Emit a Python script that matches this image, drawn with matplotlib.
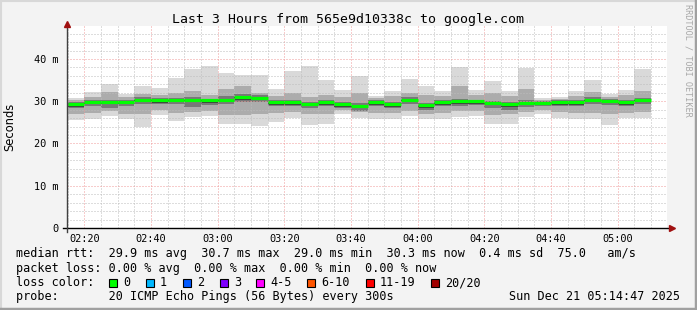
# smokeping style latency graph, last 3 hours

import matplotlib
matplotlib.use("Agg")
from matplotlib import pyplot as plt
from matplotlib.patches import Rectangle
from matplotlib.lines import Line2D
from matplotlib.ticker import MultipleLocator, FixedLocator, FuncFormatter

W, H = 697, 310

# time in minutes after midnight
t_start, t_end = 134.783, 314.783
bar_start = [135 + 5 * i for i in range(35)]

# ms values per 5 minute step
rtt_max = [30.8, 32.1, 34.0, 31.7, 33.6, 33.2, 35.5, 37.6, 38.3, 36.7, 36.2, 36.2,
           32.9, 37.1, 38.3, 35.0, 32.6, 35.9, 31.3, 32.5, 35.2, 33.6, 32.5, 38.1,
           32.6, 34.8, 32.4, 37.9, 30.8, 31.0, 32.4, 35.1, 31.8, 32.6, 37.6]
rtt_upper = [30.3, 31.0, 32.2, 30.9, 31.8, 31.5, 32.0, 32.5, 31.5, 33.0, 33.5, 32.0,
             31.3, 32.0, 31.0, 31.5, 31.0, 32.0, 30.8, 31.2, 32.0, 31.5, 31.2, 33.5,
             31.5, 32.0, 31.2, 33.0, 30.3, 30.5, 31.3, 32.2, 31.0, 31.5, 32.5]
rtt_inner_hi = [29.8, 30.4, 30.3, 30.4, 31.0, 30.8, 30.8, 30.9, 30.6, 31.2, 31.6, 31.4,
                30.3, 30.3, 29.9, 30.3, 29.8, 29.5, 30.2, 29.8, 30.9, 29.6, 30.3, 30.6,
                30.4, 30.1, 29.8, 30.3, 30.0, 30.2, 30.3, 30.9, 30.5, 30.3, 30.8]
rtt_median = [29.3, 29.9, 29.9, 29.9, 30.4, 30.2, 30.3, 30.3, 30.2, 30.4, 30.9, 30.8,
              29.8, 29.8, 29.4, 29.8, 29.3, 28.9, 29.8, 29.3, 30.3, 29.1, 29.8, 30.0,
              30.0, 29.6, 29.3, 29.6, 29.6, 29.8, 29.8, 30.4, 30.1, 29.8, 30.3]
rtt_inner_lo = [28.5, 28.8, 28.4, 28.9, 29.4, 29.3, 29.3, 28.6, 29.0, 29.3, 29.8, 29.8,
                28.8, 28.9, 28.3, 28.8, 28.5, 27.8, 28.9, 28.3, 29.4, 28.0, 28.8, 28.8,
                29.0, 28.5, 28.0, 28.6, 28.9, 28.9, 28.8, 29.3, 29.1, 28.8, 29.4]
rtt_lower = [27.0, 27.2, 27.8, 27.0, 27.0, 28.0, 27.2, 27.5, 27.8, 26.8, 26.8, 27.0,
             27.2, 27.5, 27.0, 27.0, 28.0, 27.5, 27.3, 27.3, 27.8, 27.0, 27.2, 27.8,
             27.8, 26.8, 27.0, 27.5, 28.0, 27.5, 27.2, 27.3, 27.0, 27.3, 27.5]
rtt_min = [25.5, 25.9, 26.5, 25.7, 24.0, 26.7, 25.3, 26.3, 26.4, 24.7, 24.7, 24.1,
           25.1, 26.1, 24.3, 24.6, 26.9, 26.1, 25.9, 25.9, 26.5, 25.7, 25.9, 26.3,
           26.4, 24.5, 24.6, 26.3, 26.9, 26.1, 25.8, 25.7, 24.3, 26.1, 26.1]

loss_labels = ["0", "1", "2", "3", "4-5", "6-10", "11-19", "20/20"]
loss_colors = ["#00ff00", "#00b8ff", "#0059ff", "#7e00ff", "#ff00ff", "#ff5500",
               "#ff0000", "#a10000"]

MONO = "DejaVu Sans Mono"


def px(x, y):
	# pixel position (from top left) to figure fraction
	return x / W, 1 - y / H


fig = plt.figure(figsize=(W / 100, H / 100), dpi=100)
fig.patch.set_facecolor("#f3f3f3")

# frame around the canvas
fig.add_artist(Line2D([0, 1], [1 - 0.5 / H, 1 - 0.5 / H], color="#d8d8d8", lw=1.5))
fig.add_artist(Line2D([0.5 / W, 0.5 / W], [0, 1], color="#d8d8d8", lw=1.5))
fig.add_artist(Line2D([1 - 1.5 / W, 1 - 1.5 / W], [0, 1], color="#a0a0a0", lw=2.5))
fig.add_artist(Line2D([0, 1], [1.5 / H, 1.5 / H], color="#a0a0a0", lw=2.5))

ax = fig.add_axes([67 / W, (H - 228) / H, 600 / W, 202 / H])
ax.set_facecolor("white")

# smoke, outer bands first
bands = [(rtt_min, rtt_max, "#d9d9d9"),
         (rtt_lower, rtt_upper, "#acacac"),
         (rtt_inner_lo, rtt_inner_hi, "#787878")]
for lo, hi, col in bands:
	ax.bar(bar_start, [h - l for h, l in zip(hi, lo)], bottom=lo, width=5,
		   align="edge", color=col, linewidth=0, zorder=1)
# dark core just around the median
core_lo = [m - 0.6 for m in rtt_median]
ax.bar(bar_start, [m - c for m, c in zip(rtt_median, core_lo)], bottom=core_lo,
	   width=5, align="edge", color="#404040", linewidth=0, zorder=1)

ax.hlines(rtt_median, bar_start, [b + 5 for b in bar_start], colors="#00ff00",
		  linewidth=2.3, zorder=4)

ax.set_xlim(t_start, t_end)
ax.set_ylim(0, 47.8)

ax.xaxis.set_major_locator(FixedLocator(list(range(140, 301, 20))))
ax.xaxis.set_minor_locator(MultipleLocator(5))
ax.yaxis.set_major_locator(MultipleLocator(10))
ax.yaxis.set_minor_locator(MultipleLocator(2))
ax.xaxis.set_major_formatter(FuncFormatter(lambda v, p: "%02d:%02d" % (v // 60, v % 60)))
ax.yaxis.set_major_formatter(FuncFormatter(lambda v, p: "0" if v == 0 else "%d m" % v))

ax.set_axisbelow(False)
ax.grid(which="minor", color="#bdbdbd", linestyle=(0, (1, 2)), linewidth=0.72, zorder=2)
ax.grid(which="major", color="#f09a9a", linestyle=(0, (1, 2)), linewidth=0.72, zorder=2)

ax.tick_params(which="both", length=0)
ax.tick_params(axis="x", pad=4, labelsize=7.4)
ax.tick_params(axis="y", pad=6, labelsize=7.4)
for lab in ax.get_xticklabels() + ax.get_yticklabels():
	lab.set_family(MONO)

for side in ["top", "right", "bottom", "left"]:
	ax.spines[side].set_visible(False)

# axes with arrow heads
ax.plot([-4 / 600, 1.003], [0, 0], transform=ax.transAxes, color="black", lw=1,
		clip_on=False, zorder=5)
ax.plot([0, 0], [-4 / 202, 1.0], transform=ax.transAxes, color="#404040", lw=1,
		clip_on=False, zorder=5)
ax.plot([1.008], [0], transform=ax.transAxes, marker=">", color="#a01010",
		markersize=4.5, clip_on=False, zorder=6)
ax.plot([0], [1.01], transform=ax.transAxes, marker="^", color="#a01010",
		markersize=4.5, clip_on=False, zorder=6)

fig.text(*px(348, 19), "Last 3 Hours from 565e9d10338c to google.com",
		 ha="center", va="center", family=MONO, size=9.5)
fig.text(*px(10, 127), "Seconds", rotation=90, ha="center", va="center",
		 family="DejaVu Sans", size=8.3)
fig.text(*px(688, 60), "RRDTOOL / TOBI OETIKER", rotation=270, ha="center",
		 va="center", family=MONO, size=6.1, color="#a8a8a8")

rows = [
	"median rtt:  29.9 ms avg  30.7 ms max  29.0 ms min  30.3 ms now  0.4 ms sd  75.0   am/s",
	"packet loss: 0.00 % avg  0.00 % max  0.00 % min  0.00 % now",
	"loss color:",
	"probe:       20 ICMP Echo Pings (56 Bytes) every 300s",
]
for i, row in enumerate(rows):
	fig.text(*px(16, 254 + 14.2 * i), row, ha="left", va="center", family=MONO, size=8.5)

sq_x = [109, 146, 183, 220, 256, 307, 366, 431]
for x, lab, col in zip(sq_x, loss_labels, loss_colors):
	fig.add_artist(Rectangle(px(x, 286.5), 8 / W, 8 / H, facecolor=col,
							 edgecolor="black", linewidth=0.8))
	fig.text(*px(x + 14, 282.6), lab, ha="left", va="center", family=MONO, size=8.5)

fig.text(*px(680, 296.8), "Sun Dec 21 05:14:47 2025", ha="right", va="center",
		 family=MONO, size=8.5)

fig.savefig("out.png", dpi=100, facecolor=fig.get_facecolor())
